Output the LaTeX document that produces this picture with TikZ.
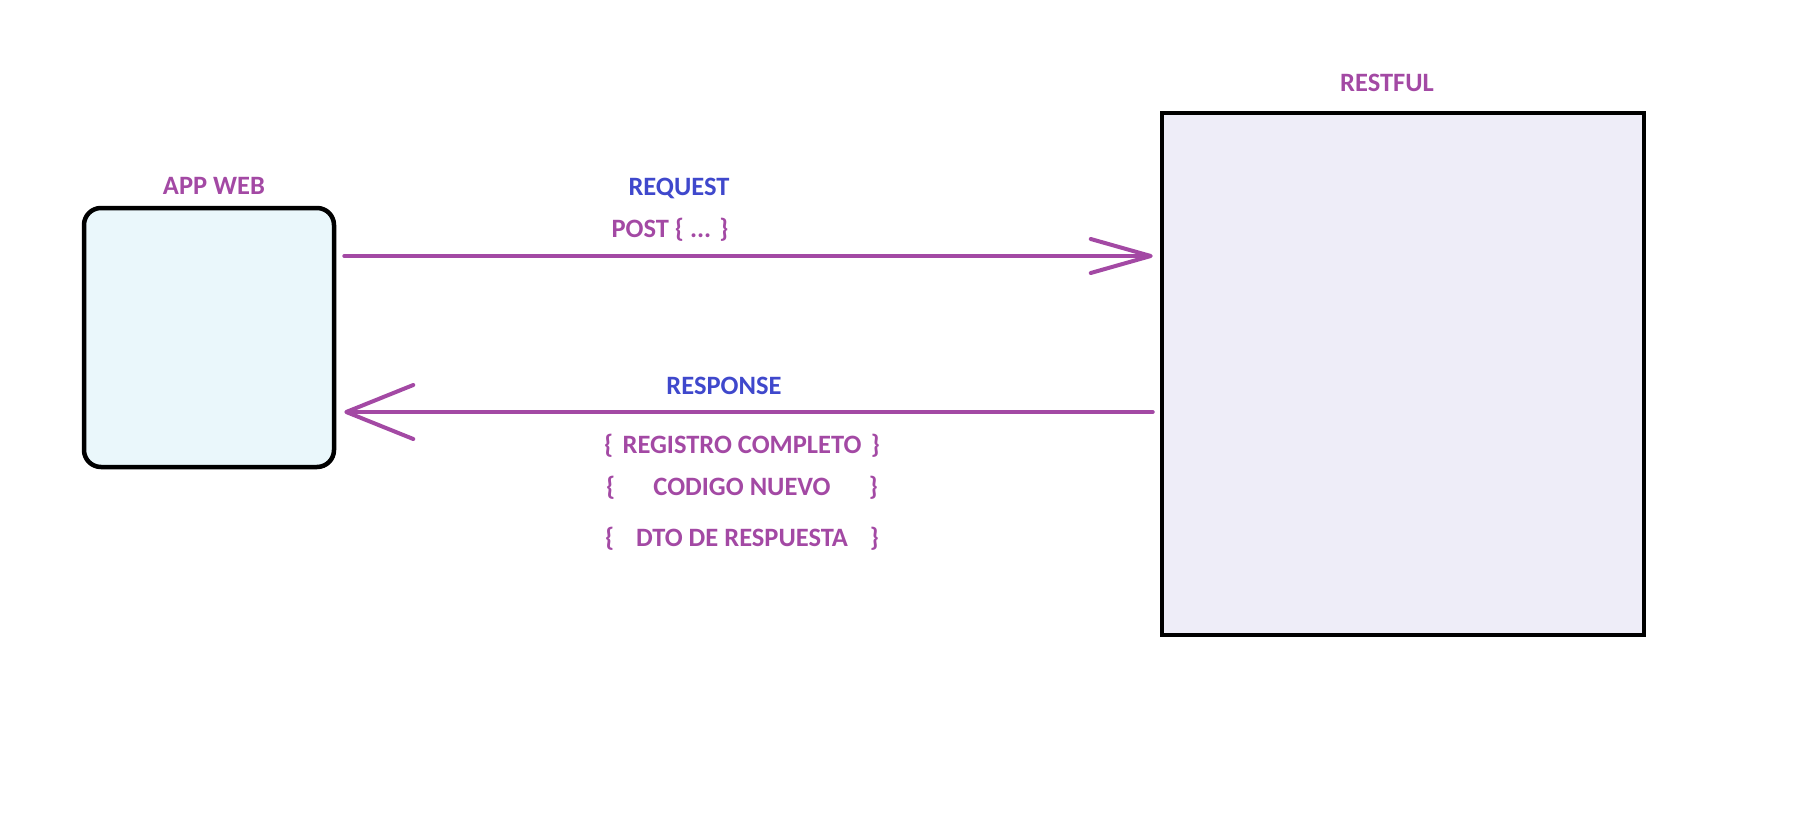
\documentclass[tikz,border=0pt]{standalone}
\usepackage{fontspec}
\setmainfont{Carlito}
\usetikzlibrary{arrows.meta}
\definecolor{lblpurple}{RGB}{163,73,164}
\definecolor{lblblue}{RGB}{63,72,204}
\definecolor{appfill}{RGB}{234,247,251}
\definecolor{restfill}{RGB}{238,237,248}
\tikzset{
  lbl/.style={font=\fontsize{26.5}{30}\selectfont\bfseries, text=lblpurple, inner sep=0pt, anchor=base},
  hdr/.style={lbl, text=lblblue},
  boxstyle/.style={draw=black, line width=4.5pt, inner sep=0pt},
  flow/.style={draw=lblpurple, line width=4pt, line cap=round},
  reqtip/.style={-{Straight Barb[length=60pt,width=34pt,line width=4pt,round]}},
  restip/.style={-{Straight Barb[length=67pt,width=54pt,line width=4pt,round]}},
}
\begin{document}
\begin{tikzpicture}[x=1pt,y=-1pt]
\useasboundingbox (0,0) rectangle (1811,813);
\node[boxstyle, fill=appfill, rounded corners=17pt, minimum width=250pt, minimum height=259pt] (app) at (209,337.5) {};
\node[boxstyle, fill=restfill, minimum width=482pt, minimum height=522pt] (rest) at (1403,374) {};
\node[lbl] (applbl) at (214,194.5) {APP WEB};
\node[lbl] (restlbl) at (1387,91.5) {RESTFUL};
\node[hdr] (reqlbl) at (679,195.5) {REQUEST};
\node[lbl] (postlbl) at (670,237.5) {POST \{ ... \}};
\node[hdr] (reslbl) at (724,394.5) {RESPONSE};
\node[lbl] (r1) at (742,453.5) {\makebox[276pt]{\{\hfill REGISTRO COMPLETO\hfill\}}};
\node[lbl] (r2) at (742,495.5) {\makebox[272pt]{\{\hfill CODIGO NUEVO\hfill\}}};
\node[lbl] (r3) at (742,546.5) {\makebox[274pt]{\{\hfill DTO DE RESPUESTA\hfill\}}};
\coordinate (reqy) at (0,256);
\coordinate (resy) at (0,412);
\draw[flow, reqtip, shorten <=8pt, shorten >=7pt] (app.east |- reqy) -- (rest.west |- reqy);
\draw[flow, restip, shorten <=7pt, shorten >=8pt] (rest.west |- resy) -- (app.east |- resy);
\end{tikzpicture}
\end{document}
